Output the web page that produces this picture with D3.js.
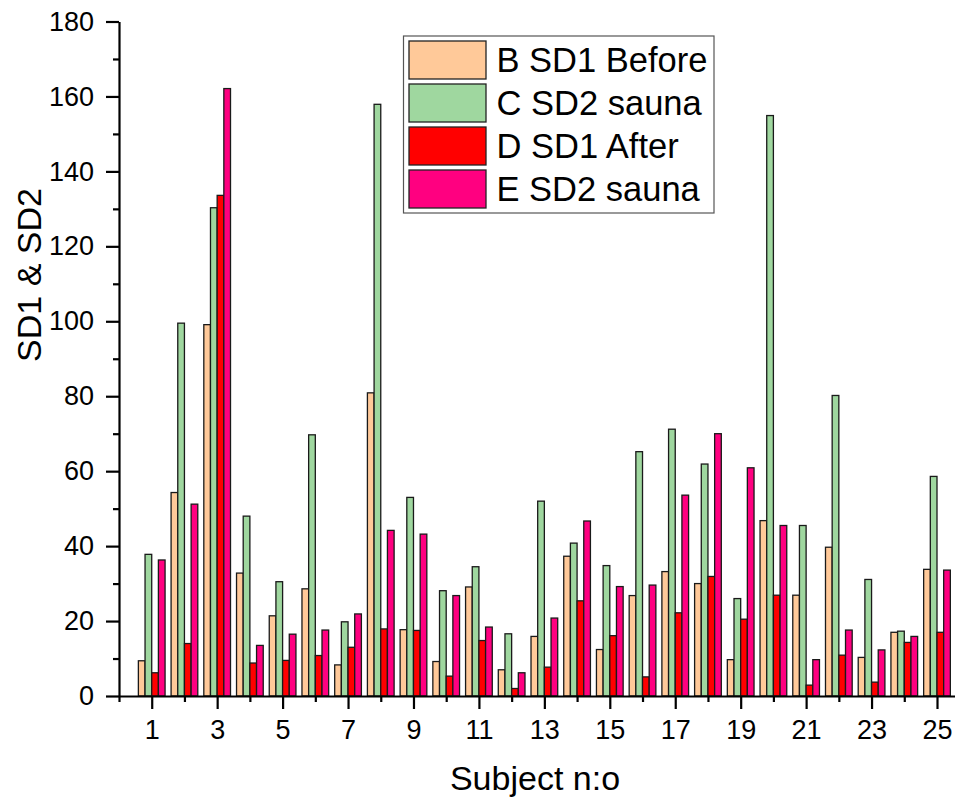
<!DOCTYPE html>
<html>
<head>
<meta charset="utf-8">
<script src="https://cdn.jsdelivr.net/npm/d3@7"></script>
<style>
  body { margin: 0; background: #fff; }
  svg { display: block; }
  svg text { font-family: "Liberation Sans", Arial, sans-serif; }
</style>
</head>
<body>
<div id="chart"></div>
<script>
// Grouped bar chart: SD1 / SD2 per subject, before and after sauna

const subjects = d3.range(1, 26);
const seriesNames = ["B SD1 Before", "C SD2 sauna", "D SD1 After", "E SD2 sauna"];
const seriesColors = ["#FFC999", "#9FD79F", "#FF0000", "#FF0080"];

const sd1Before = [9.4, 54.3, 99.1, 32.8, 21.4, 28.6, 8.3, 80.9, 17.7, 9.2, 29.1, 7.0, 15.9,
  37.3, 12.4, 26.8, 33.2, 30.0, 9.7, 46.8, 26.9, 39.7, 10.3, 17.0, 33.8];
const sd2Sauna1 = [37.8, 99.5, 130.3, 48.0, 30.5, 69.7, 19.8, 157.9, 53.0, 28.1, 34.5, 16.6, 52.0,
  40.8, 34.8, 65.2, 71.2, 61.9, 26.0, 154.9, 45.5, 80.2, 31.1, 17.3, 58.6];
const sd1After = [6.2, 14.0, 133.6, 8.8, 9.5, 10.8, 13.0, 17.9, 17.5, 5.3, 14.8, 2.0, 7.7,
  25.4, 16.1, 5.1, 22.2, 31.9, 20.5, 26.9, 2.9, 10.9, 3.7, 14.3, 17.0];
const sd2Sauna2 = [36.3, 51.2, 162.1, 13.5, 16.5, 17.6, 21.9, 44.2, 43.2, 26.8, 18.4, 6.2, 20.8,
  46.7, 29.2, 29.6, 53.6, 70.0, 60.9, 45.5, 9.7, 17.6, 12.3, 15.9, 33.6];

const yMajorTicks = d3.range(0, 181, 20);
const yMinorTicks = d3.range(10, 180, 20);
const xMajorTicks = d3.range(1, 26, 2);
const xMinorTicks = d3.range(0, 27, 2);

const seriesValues = [sd1Before, sd2Sauna1, sd1After, sd2Sauna2];

(function () {
  const W = 955, H = 802;
  const left = 119, top = 21.5, bottom = 696;
  const unit = 32.72;
  const FONT = "'Liberation Sans', Arial, sans-serif";

  const svg = d3.select("#chart").append("svg")
    .attr("width", W)
    .attr("height", H);

  svg.append("rect").attr("width", W).attr("height", H).attr("fill", "#fff");

  const x = d3.scaleLinear().domain([0, 26]).range([left, left + 26 * unit]);
  const y = d3.scaleLinear().domain([0, 180]).range([bottom, top]);

  const groupHalf = unit * 0.408;
  const inner = d3.scaleBand().domain(seriesNames).range([-groupHalf, groupHalf]);

  // bars
  seriesNames.forEach((name, si) => {
    svg.append("g")
      .selectAll("rect")
      .data(subjects.map((s, i) => ({ s: s, v: seriesValues[si][i] })))
      .join("rect")
      .attr("x", d => x(d.s) + inner(name))
      .attr("y", d => y(d.v))
      .attr("width", inner.bandwidth())
      .attr("height", d => y(0) - y(d.v))
      .attr("fill", seriesColors[si])
      .attr("stroke", "#1a1a1a")
      .attr("stroke-width", 1.3);
  });

  // y axis
  svg.append("g")
    .attr("transform", `translate(${left},0)`)
    .call(d3.axisLeft(y).tickValues(yMajorTicks).tickSize(13).tickPadding(12).tickSizeOuter(0));
  svg.append("g")
    .attr("transform", `translate(${left},0)`)
    .call(d3.axisLeft(y).tickValues(yMinorTicks).tickSize(6).tickFormat("").tickSizeOuter(0))
    .select(".domain").remove();

  // x axis
  const xAxis = svg.append("g")
    .attr("transform", `translate(0,${bottom})`)
    .call(d3.axisBottom(x).tickValues(xMajorTicks).tickSize(13).tickSizeOuter(0));
  svg.append("g")
    .attr("transform", `translate(0,${bottom})`)
    .call(d3.axisBottom(x).tickValues(xMinorTicks).tickSize(6).tickFormat("").tickSizeOuter(0))
    .select(".domain").remove();

  xAxis.selectAll(".tick text").attr("y", 24).attr("dy", "0.71em");

  svg.selectAll(".domain").attr("stroke", "#000").attr("stroke-width", 2.2);
  svg.selectAll(".tick line").attr("stroke", "#000").attr("stroke-width", 2.2);
  svg.selectAll("g").attr("font-family", FONT);
  svg.selectAll(".tick text")
    .attr("font-size", 27)
    .attr("fill", "#000");

  // axis titles
  svg.append("text")
    .attr("transform", "translate(41,275) rotate(-90)")
    .attr("text-anchor", "middle")
    .attr("font-family", FONT)
    .attr("font-size", 34)
    .attr("fill", "#000")
    .text("SD1 & SD2");

  svg.append("text")
    .attr("x", 535)
    .attr("y", 790)
    .attr("text-anchor", "middle")
    .attr("font-family", FONT)
    .attr("font-size", 34)
    .attr("fill", "#000")
    .text("Subject n:o");

  // legend
  const lg = svg.append("g").attr("transform", "translate(403.5,36)");
  lg.append("rect")
    .attr("width", 310.5)
    .attr("height", 177)
    .attr("fill", "#fff")
    .attr("stroke", "#555")
    .attr("stroke-width", 1.2);

  seriesNames.forEach((name, i) => {
    const row = lg.append("g").attr("transform", `translate(0,${5 + i * 43})`);
    row.append("rect")
      .attr("x", 5.5)
      .attr("y", 0)
      .attr("width", 77)
      .attr("height", 38)
      .attr("fill", seriesColors[i])
      .attr("stroke", "#222")
      .attr("stroke-width", 1.3);
    row.append("text")
      .attr("x", 93)
      .attr("y", 31)
      .attr("font-size", 34.5)
      .attr("fill", "#000")
      .text(name);
  });
})();
</script>
</body>
</html>
